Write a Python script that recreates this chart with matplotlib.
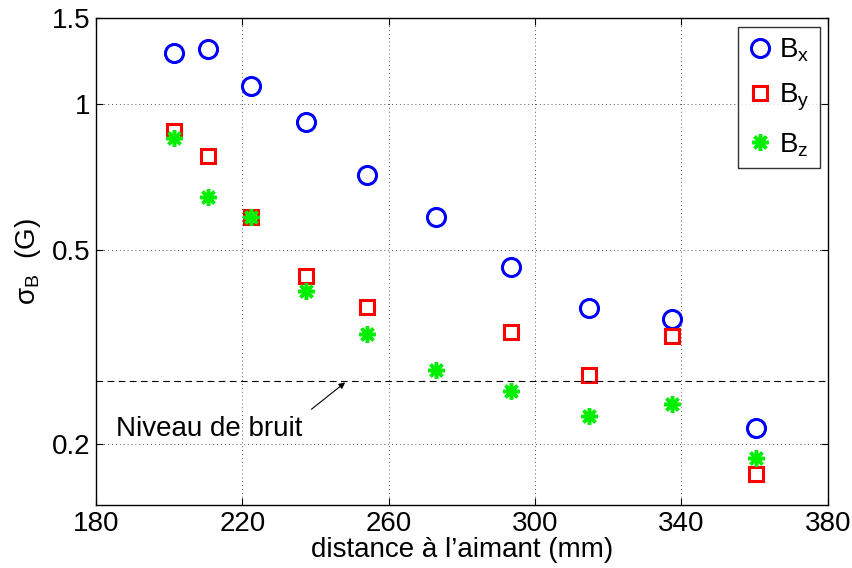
import matplotlib
matplotlib.use("Agg")
import matplotlib.pyplot as plt
import numpy as np
from matplotlib.ticker import FixedLocator, NullLocator, FixedFormatter

plt.rcParams['font.family'] = ['Liberation Sans', 'DejaVu Sans']
plt.rcParams['mathtext.fontset'] = 'custom'
plt.rcParams['mathtext.rm'] = 'Liberation Sans'

# distances (mm) and sigma_B (G)
dist = [201.2, 210.5, 222.5, 237.3, 254.2, 272.8, 293.5, 314.8, 337.5, 360.4]
bx = [1.27, 1.295, 1.087, 0.916, 0.713, 0.585, 0.463, 0.381, 0.362, 0.216]
by = [0.878, 0.780, 0.587, 0.442, 0.383, np.nan, 0.340, 0.278, 0.333, 0.174]
bz = [0.853, 0.645, 0.585, 0.413, 0.337, 0.284, 0.257, 0.229, 0.242, 0.187]
bruit = 0.270

xticks = [180, 220, 260, 300, 340, 380]
yticks = [0.2, 0.5, 1, 1.5]
ylabels = ["0.2", "0.5", "1", "1.5"]

fig = plt.figure(figsize=(8.53, 5.68), dpi=100)
ax = fig.add_axes([0.1125, 0.111, 0.858, 0.857])

ax.set_yscale("log")
ax.plot(dist, bx, "o", color="blue", markerfacecolor="none", markersize=13, markeredgewidth=2.2, label=r"$\mathregular{B_x}$")
ax.plot(dist, by, "s", color="red", markerfacecolor="none", markersize=10, markeredgewidth=2.2, label=r"$\mathregular{B_y}$")
ax.plot(dist, bz, marker=(8, 2, 0), linestyle="none", color="#00ee00", markersize=12, markeredgewidth=2.5, label=r"$\mathregular{B_z}$")

ax.axhline(bruit, color="black", linestyle=(0, (6, 4)), linewidth=0.8)
ax.annotate("Niveau de bruit", xy=(248.7, bruit), xytext=(185.6, 0.215),
            fontsize=20, va="center", ha="left")
ax.annotate("", xy=(248.7, bruit), xytext=(238.3, 0.234),
            arrowprops=dict(arrowstyle="-|>", color="black", lw=0.8, mutation_scale=9))

ax.set_xlim(180, 380)
ax.set_ylim(0.15, 1.5)
ax.xaxis.set_major_locator(FixedLocator(xticks))
ax.yaxis.set_major_locator(FixedLocator(yticks))
ax.yaxis.set_major_formatter(FixedFormatter(ylabels))
ax.yaxis.set_minor_locator(NullLocator())
ax.tick_params(direction="in", labelsize=20, length=5, width=0.8, top=True, right=True, pad=4)
ax.grid(True, which="major", linestyle=(0, (1, 3)), color="#555555", linewidth=0.7)
for s in ax.spines.values():
    s.set_linewidth(1.0)

ax.set_xlabel("distance à l\u2019aimant (mm)", fontsize=20, labelpad=0)
ax.set_ylabel(r"$\mathregular{\sigma_B}$  (G)", fontsize=20, labelpad=6)

leg = ax.legend(loc="upper right", fontsize=20, frameon=True, fancybox=False,
                edgecolor="black", handletextpad=0.25, borderpad=0.35, labelspacing=0.65,
                handlelength=0.9, borderaxespad=0.3)
leg.get_frame().set_linewidth(1.0)

fig.savefig("out.png", dpi=100)
